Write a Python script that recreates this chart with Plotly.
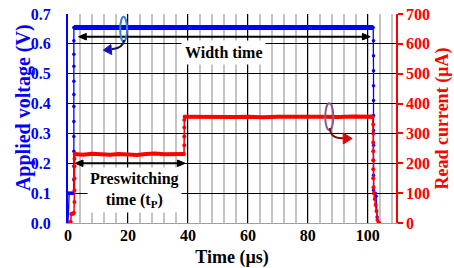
import plotly.graph_objects as go

# ---------------- data ----------------
# Applied voltage (V) vs time (µs): edges sampled as dots
volt_t = [0.0, 0.15, 0.4, 0.7, 1.0, 1.3, 1.6, 1.85,
          1.95, 1.95, 1.95, 1.95, 1.95, 1.95, 1.95, 1.95, 1.95, 1.95, 1.95, 1.95,
          2.1, 101.8,
          101.9, 101.9, 101.9, 101.9, 101.9, 101.9, 101.9, 101.9, 101.9, 101.9, 101.9,
          102.2, 102.5, 102.8, 103.1, 103.5]
volt_v = [0.0, 0.10, 0.10, 0.10, 0.10, 0.10, 0.10, 0.10,
          0.145, 0.19, 0.24, 0.29, 0.34, 0.39, 0.43, 0.475, 0.525, 0.565, 0.61, 0.655,
          0.655, 0.655,
          0.61, 0.56, 0.51, 0.46, 0.41, 0.36, 0.31, 0.26, 0.21, 0.16, 0.11,
          0.10, 0.10, 0.09, 0.02, 0.0]
# voltage plateau (thick part)
volt_plateau_t = [2.0, 20.0, 40.0, 60.0, 80.0, 101.8]
volt_plateau_v = [0.655, 0.655, 0.655, 0.656, 0.655, 0.655]

# Read current (µA) vs time (µs)
curr_t = [0.0, 0.3, 0.6, 0.9, 1.1, 1.4, 1.7, 2.0,
          2.15, 2.15, 2.15, 2.15, 2.15, 2.2,
          38.7, 38.8, 38.8, 38.8, 38.8, 38.9,
          100.8, 101.2, 101.6,
          101.8, 101.8, 101.8, 101.8, 101.8, 101.8, 101.8, 101.9, 102.0,
          102.3, 102.6, 102.9, 103.2, 103.8]
curr_v = [0, 0, 0, 4, 30, 32, 31, 34,
          70, 110, 150, 190, 215, 231,
          231, 260, 290, 320, 345, 356,
          356, 357, 355,
          330, 300, 270, 240, 210, 180, 150, 120, 100,
          80, 60, 40, 10, 0]
# current plateaus (thick parts)
curr_p1_t = [2.2, 5, 8, 11, 14, 17, 20, 23, 26, 29, 32, 35, 38.7]
curr_p1_v = [231, 229, 232, 230, 229, 231, 230, 228, 231, 233, 230, 229, 231]
curr_p2_t = [38.9, 45, 50, 55, 60, 65, 70, 75, 80, 85, 90, 95, 101.5]
curr_p2_v = [356, 355, 357, 355, 356, 354, 356, 357, 355, 356, 355, 357, 356]

x_ticks = [0, 20, 40, 60, 80, 100]
v_ticks = [0.0, 0.1, 0.2, 0.3, 0.4, 0.5, 0.6, 0.7]
i_ticks = [0, 100, 200, 300, 400, 500, 600, 700]

BLUE = "#0000ff"
RED = "#ff0000"
FONT = "Liberation Serif"

fig = go.Figure()

fig.add_trace(go.Scatter(x=volt_t, y=volt_v, mode="lines+markers",
                         line=dict(color=BLUE, width=1.3),
                         marker=dict(color=BLUE, size=3.5),
                         yaxis="y", showlegend=False, hoverinfo="skip"))
fig.add_trace(go.Scatter(x=volt_plateau_t, y=volt_plateau_v, mode="lines",
                         line=dict(color=BLUE, width=5),
                         yaxis="y", showlegend=False, hoverinfo="skip"))

fig.add_trace(go.Scatter(x=curr_t, y=curr_v, mode="lines+markers",
                         line=dict(color=RED, width=1.5),
                         marker=dict(color=RED, size=4),
                         yaxis="y2", showlegend=False, hoverinfo="skip"))
fig.add_trace(go.Scatter(x=curr_p1_t, y=curr_p1_v, mode="lines",
                         line=dict(color=RED, width=4),
                         yaxis="y2", showlegend=False, hoverinfo="skip"))
fig.add_trace(go.Scatter(x=curr_p2_t, y=curr_p2_v, mode="lines",
                         line=dict(color=RED, width=4),
                         yaxis="y2", showlegend=False, hoverinfo="skip"))

# annotation boxes
fig.add_annotation(x=52, y=0.57, xref="x", yref="y", text="<b>Width time</b>",
                   showarrow=False, bgcolor="white", borderpad=3,
                   font=dict(family=FONT, size=16, color="black"))
fig.add_annotation(x=22.2, y=0.11, xref="x", yref="y",
                   text="<b>Preswitching</b><br><b>time (t<sub>P</sub>)</b>",
                   showarrow=False, bgcolor="white", borderpad=2,
                   font=dict(family=FONT, size=16, color="black"))

# left axis title (placed as in the reference)
fig.add_annotation(x=-0.137, y=0.55, xref="paper", yref="paper",
                   text="<b>Applied voltage (V)</b>", textangle=-90, showarrow=False,
                   xanchor="center", yanchor="middle",
                   font=dict(family=FONT, size=20, color=BLUE))

# double-headed arrows (line + two filled heads)
def double_arrow(x0, x1, y, hl=2.6, hw=0.011):
    fig.add_shape(type="line", xref="x", yref="y", x0=x0 + hl * 0.8, x1=x1 - hl * 0.8,
                  y0=y, y1=y, line=dict(color="black", width=2))
    fig.add_shape(type="path", xref="x", yref="y",
                  path=f"M {x0},{y} L {x0+hl},{y+hw} L {x0+hl},{y-hw} Z",
                  fillcolor="black", line=dict(color="black", width=1))
    fig.add_shape(type="path", xref="x", yref="y",
                  path=f"M {x1},{y} L {x1-hl},{y+hw} L {x1-hl},{y-hw} Z",
                  fillcolor="black", line=dict(color="black", width=1))

double_arrow(3.5, 100.8, 0.624)
double_arrow(2.4, 39.1, 0.2)

# ellipse markers with curved arrows
fig.add_shape(type="circle", xref="x", yref="y", x0=17.4, x1=19.7, y0=0.607, y1=0.691,
              line=dict(color="#3a7fd0", width=2))
fig.add_shape(type="path", xref="x", yref="y",
              path="M 18.8,0.613 Q 18.3,0.585 14.6,0.582",
              line=dict(color="#10106a", width=2))
fig.add_shape(type="path", xref="x", yref="y",
              path="M 11.8,0.579 L 14.3,0.598 L 14.6,0.564 Z",
              fillcolor="#1010c0", line=dict(color="#1010c0", width=1))

fig.add_shape(type="circle", xref="x", yref="y", x0=85.8, x1=88.5, y0=0.311, y1=0.401,
              line=dict(color="#8a5a8a", width=2))
fig.add_shape(type="path", xref="x", yref="y",
              path="M 87.4,0.318 Q 87.4,0.282 91.8,0.284",
              line=dict(color="#7a1010", width=2))
fig.add_shape(type="path", xref="x", yref="y",
              path="M 94.8,0.283 L 91.8,0.301 L 91.8,0.265 Z",
              fillcolor="#e00000", line=dict(color="#e00000", width=1))

fig.update_layout(
    width=454, height=268,
    margin=dict(l=68, r=58, t=14, b=45, autoexpand=False),
    paper_bgcolor="white", plot_bgcolor="white",
    font=dict(family=FONT),
    xaxis=dict(range=[0, 109.4], tickvals=x_ticks, ticktext=[str(v) for v in x_ticks],
               automargin=False,
               showgrid=True, gridcolor="black", gridwidth=1,
               minor=dict(dtick=4, tick0=0, showgrid=True, gridcolor="#c4c4c4", gridwidth=1.5),
               zeroline=False, showline=True, linecolor="#a0a0a0", linewidth=1,
               tickfont=dict(family=FONT, size=16, color="black", weight="bold"),
               ticklabelstandoff=-2,
               title=dict(text="<b>Time (µs)</b>", standoff=12,
                          font=dict(family=FONT, size=18, color="black"))),
    yaxis=dict(range=[0, 0.7], tickvals=v_ticks, ticktext=[f"{v:.1f}" for v in v_ticks],
               automargin=False,
               showgrid=True, gridcolor="black", gridwidth=1, zeroline=False,
               showline=True, linecolor=BLUE, linewidth=2,
               tickfont=dict(family=FONT, size=16, color=BLUE, weight="bold"),
               ticklabelstandoff=12),
    yaxis2=dict(range=[0, 700], tickvals=i_ticks, ticktext=[str(v) for v in i_ticks],
                automargin=False,
                overlaying="y", side="right", showgrid=False, zeroline=False,
                showline=True, linecolor=RED, linewidth=1.5,
                ticks="outside", ticklen=5, tickcolor=RED, tickwidth=1.5,
                tickfont=dict(family=FONT, size=16, color=RED, weight="bold"),
                title=dict(text="<b>Read current (µA)</b>", standoff=6,
                           font=dict(family=FONT, size=18, color=RED))),
)

fig.write_html("out.html", config={"displayModeBar": False},
               post_script="document.body.style.margin='0px';")
